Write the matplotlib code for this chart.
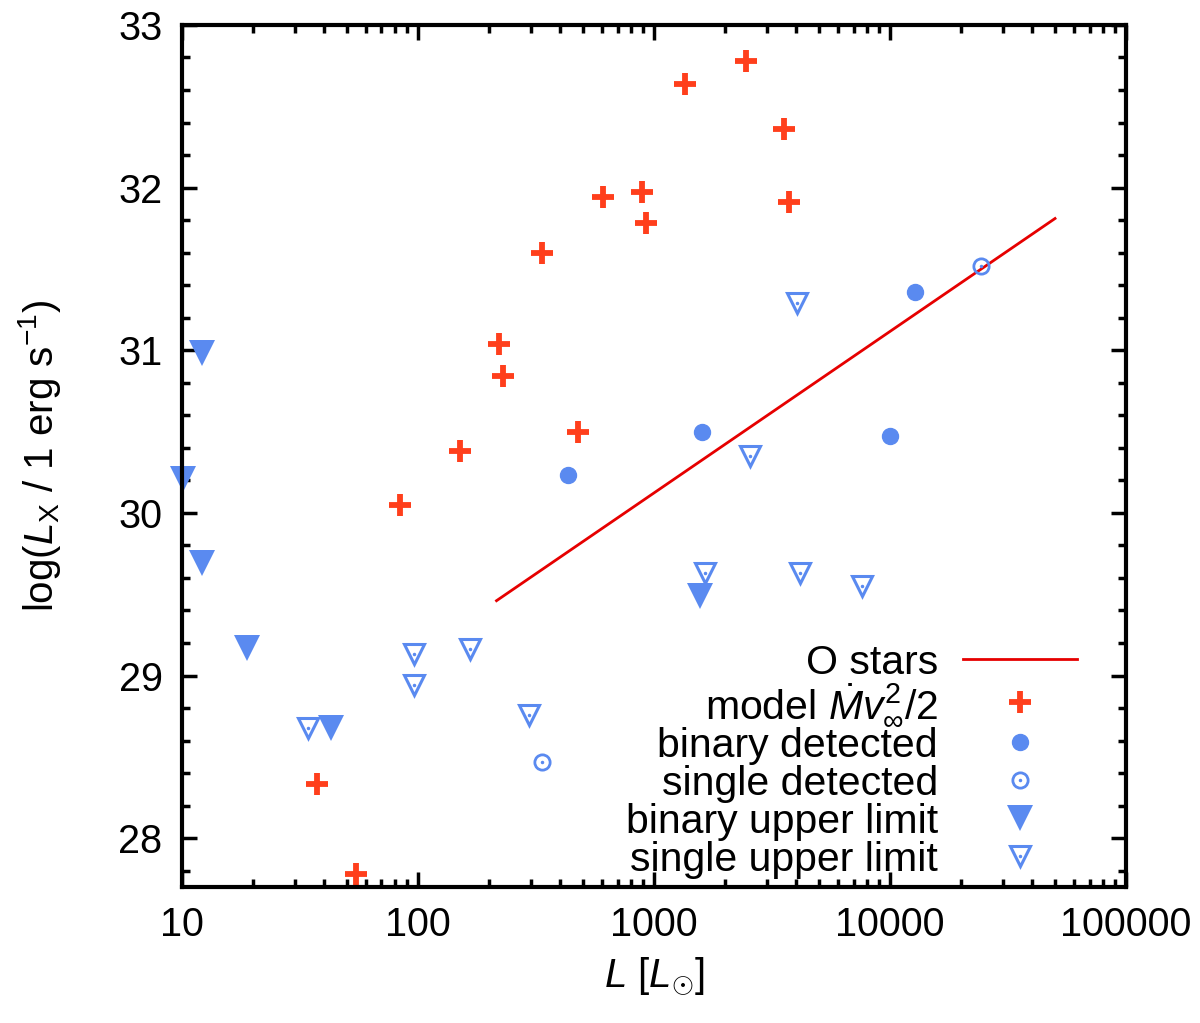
"""
L_X versus L for stars, with O star relation and model wind energy.
"""

# ---------------------------------------------------------------------
# Libraries
# ---------------------------------------------------------------------
import matplotlib
matplotlib.use("Agg")
import matplotlib.pyplot as plt
from matplotlib.ticker import MultipleLocator, LogLocator, NullFormatter, FixedFormatter, FixedLocator

plt.rcParams['font.family'] = ['Liberation Sans', 'DejaVu Sans']
plt.rcParams['mathtext.fontset'] = 'custom'
plt.rcParams['mathtext.rm'] = 'Liberation Sans'
plt.rcParams['mathtext.it'] = 'Liberation Sans:italic'
plt.rcParams['mathtext.bf'] = 'Liberation Sans:bold'

# ---------------------------------------------------------------------
# Data
# ---------------------------------------------------------------------
L_ostars = [215, 50000]
lx_ostars = [29.46, 31.81]

L_model = [2443, 1355, 3570, 3720, 605, 885, 925, 336, 220, 228, 476, 150, 83.5, 37.3, 54.5]
lx_model = [32.78, 32.64, 32.36, 31.91, 31.94, 31.97, 31.78, 31.60, 31.04, 30.84,
            30.50, 30.38, 30.05, 28.33, 27.78]

L_bin_det = [433, 1589, 10020, 12790]
lx_bin_det = [30.23, 30.50, 30.47, 31.36]

L_sgl_det = [336, 24270]
lx_sgl_det = [28.47, 31.52]

L_bin_ul = [12.1, 10.1, 12.1, 18.9, 42.7, 1563]
lx_bin_ul = [30.98, 30.21, 29.69, 29.17, 28.68, 29.49]

L_sgl_ul = [34.1, 96.4, 96.4, 165.6, 295, 1649, 2547, 4046, 4140, 7570]
lx_sgl_ul = [28.68, 29.13, 28.94, 29.16, 28.76, 29.63, 30.35, 31.29, 29.63, 29.55]

x_ticks = [10, 100, 1000, 10000, 100000]
x_ticklabels = ["10", "100", "1000", "10000", "100000"]

# ---------------------------------------------------------------------
# Styles
# ---------------------------------------------------------------------
red_line = "#e60000"
red_plus = "#ff3f1c"
blue = "#5a8af0"
fs_tick = 28.5
fs_label = 29
fs_leg = 29.5

# ---------------------------------------------------------------------
# Figure
# ---------------------------------------------------------------------
fig = plt.figure(figsize=(12, 10.23), dpi=100)
ax = fig.add_axes([0.1517, 0.133, 0.7867, 0.8426])

h_line, = ax.plot(L_ostars, lx_ostars, color=red_line, lw=2.0)

h_plus, = ax.plot(L_model, lx_model, ls="none", marker="+", ms=16, mew=4.2,
                  color=red_plus, clip_on=False)

h_bdet, = ax.plot(L_bin_det, lx_bin_det, ls="none", marker="o", ms=11.5,
                  color=blue, mec=blue, clip_on=False)

h_sdet, = ax.plot(L_sgl_det, lx_sgl_det, ls="none", marker="o", ms=11,
                  mfc="none", mec=blue, mew=2.0, clip_on=False)
h_sdet_dot, = ax.plot(L_sgl_det, lx_sgl_det, ls="none", marker="o", ms=1.5,
                      color=blue, clip_on=False)

h_bul, = ax.plot(L_bin_ul, lx_bin_ul, ls="none", marker="v", ms=18.5,
                 color=blue, mec=blue, mew=0, clip_on=False)

h_sul, = ax.plot(L_sgl_ul, lx_sgl_ul, ls="none", marker="v", ms=15,
                 mfc="none", mec=blue, mew=2.2, clip_on=False)
h_sul_dot, = ax.plot(L_sgl_ul, lx_sgl_ul, ls="none", marker="o", ms=1.5,
                     color=blue, clip_on=False)

# ---------------------------------------------------------------------
# Axes
# ---------------------------------------------------------------------
ax.set_xscale("log")
ax.set_xlim(10, 100000)
ax.set_ylim(27.7, 33)

ax.xaxis.set_major_locator(FixedLocator(x_ticks))
ax.xaxis.set_major_formatter(FixedFormatter(x_ticklabels))
ax.xaxis.set_minor_locator(LogLocator(base=10, subs=range(2, 10), numticks=20))
ax.xaxis.set_minor_formatter(NullFormatter())
ax.yaxis.set_major_locator(MultipleLocator(1))
ax.yaxis.set_minor_locator(MultipleLocator(0.2))

for s in ax.spines.values():
    s.set_linewidth(3.0)
ax.tick_params(which="both", direction="in", top=True, right=True,
               labelsize=fs_tick, width=2.5, pad=14)
ax.tick_params(which="major", length=11)
ax.tick_params(which="minor", length=6)

ax.set_xlabel(r"$L$ [$L_{\odot}$]", fontsize=fs_label, labelpad=8)
ax.set_ylabel(r"log($L_{\rm X}$ / 1 erg s$^{-1}$)", fontsize=fs_label, labelpad=40)

leg = ax.legend(
    [h_line, h_plus, h_bdet, (h_sdet, h_sdet_dot), h_bul, (h_sul, h_sul_dot)],
    ["O stars", r"model $\dot{M}v_{\infty}^{2}/2$", "binary detected",
     "single detected", "binary upper limit", "single upper limit"],
    loc="lower right", bbox_to_anchor=(0.957, 0.0), frameon=False,
    markerfirst=False, fontsize=fs_leg, handlelength=2.8, handletextpad=0.6,
    labelspacing=0.0, borderaxespad=0.2, borderpad=0.0)

fig.savefig("out.png", dpi=100)
